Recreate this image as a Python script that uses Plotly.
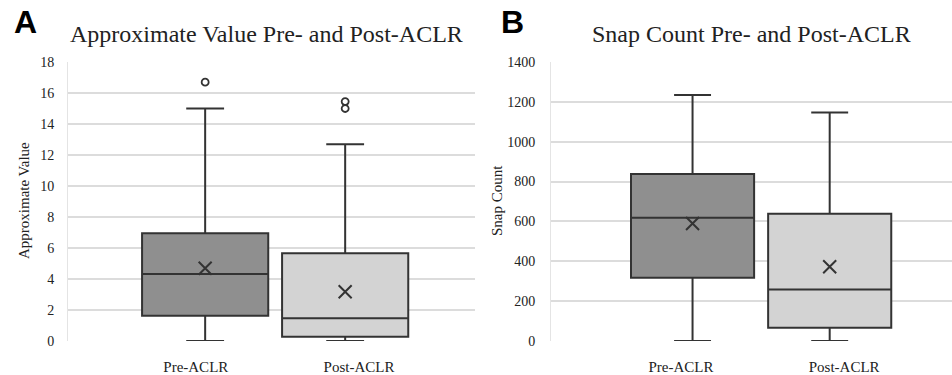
import plotly.graph_objects as go

# ---------------- data ----------------
categories = ["Pre-ACLR", "Post-ACLR"]

# Panel A: Approximate Value
av_lower = [0.0, 0.0]
av_q1 = [1.63, 0.28]
av_median = [4.32, 1.46]
av_q3 = [6.95, 5.66]
av_upper = [15.0, 12.7]
av_mean = [4.69, 3.18]
av_outliers = [[16.7], [15.45, 15.0]]

# Panel B: Snap Count
sc_lower = [0, 0]
sc_q1 = [318, 67]
sc_median = [619, 259]
sc_q3 = [838, 639]
sc_upper = [1234, 1147]
sc_mean = [590, 373]
sc_outliers = [[], []]

# ---------------- layout constants ----------------
W, H = 952, 375
fills = ["#8f8f8f", "#d3d3d3"]
LINE = "#333333"
GRID = "#dcdcdc"
SERIF = "Liberation Serif"
SANS = "Liberation Sans"

panels = [
    dict(xa="x", ya="y", box_pos=[0.337, 0.681], label_pos=[0.314, 0.715], width=0.31,
         lower=av_lower, q1=av_q1, med=av_median, q3=av_q3, upper=av_upper,
         mean=av_mean, out=av_outliers),
    dict(xa="x2", ya="y2", box_pos=[0.353, 0.695], label_pos=[0.324, 0.731], width=0.307,
         lower=sc_lower, q1=sc_q1, med=sc_median, q3=sc_q3, upper=sc_upper,
         mean=sc_mean, out=sc_outliers),
]

fig = go.Figure()
for p in panels:
    for i, cat in enumerate(categories):
        fig.add_trace(go.Box(
            x=[p["box_pos"][i]], q1=[p["q1"][i]], median=[p["med"][i]], q3=[p["q3"][i]],
            lowerfence=[p["lower"][i]], upperfence=[p["upper"][i]],
            width=p["width"], whiskerwidth=0.3, boxpoints=False,
            fillcolor=fills[i], line=dict(color=LINE, width=2),
            name=cat, showlegend=False, xaxis=p["xa"], yaxis=p["ya"],
        ))
        fig.add_trace(go.Scatter(
            x=[p["box_pos"][i]], y=[p["mean"][i]], mode="markers",
            marker=dict(symbol="x-thin", size=13, line=dict(color=LINE, width=2)),
            showlegend=False, xaxis=p["xa"], yaxis=p["ya"],
        ))
        if p["out"][i]:
            fig.add_trace(go.Scatter(
                x=[p["box_pos"][i]] * len(p["out"][i]), y=p["out"][i], mode="markers",
                marker=dict(symbol="circle-open", size=7, color=LINE, line=dict(color=LINE, width=1.8)),
                showlegend=False, xaxis=p["xa"], yaxis=p["ya"],
            ))

ydom = [(H - 341) / H, (H - 62) / H]
xcommon = dict(range=[0, 1], showgrid=False, zeroline=False, showline=False,
               ticks="", tickfont=dict(family=SERIF, size=15, color="#222222"),
               ticklabelstandoff=15, fixedrange=True, automargin=False)
ycommon = dict(showgrid=True, gridcolor=GRID, gridwidth=1.5, zeroline=False,
               showline=True, linecolor="#e4e4e4", linewidth=1,
               ticks="", tickfont=dict(family=SERIF, size=14, color="#222222"),
               fixedrange=True, domain=ydom, automargin=False)

fig.update_layout(
    template="none",
    width=W, height=H, margin=dict(l=0, r=0, t=0, b=0, autoexpand=False),
    paper_bgcolor="white", plot_bgcolor="white",
    xaxis=dict(xcommon, domain=[68 / W, 475 / W], anchor="y",
               tickvals=panels[0]["label_pos"], ticktext=categories),
    yaxis=dict(ycommon, range=[0, 18], dtick=2, anchor="x", ticklabelstandoff=10),
    xaxis2=dict(xcommon, domain=[551 / W, 1.0], anchor="y2",
                tickvals=panels[1]["label_pos"], ticktext=categories),
    yaxis2=dict(ycommon, range=[0, 1400], dtick=200, anchor="x2", ticklabelstandoff=12),
    annotations=[
        dict(text="<b>A</b>", x=12 / W, y=1 - 22 / H, xref="paper", yref="paper",
             xanchor="left", yanchor="middle", showarrow=False,
             font=dict(family=SANS, size=32, color="black")),
        dict(text="<b>B</b>", x=499 / W, y=1 - 22 / H, xref="paper", yref="paper",
             xanchor="left", yanchor="middle", showarrow=False,
             font=dict(family=SANS, size=32, color="black")),
        dict(text="Approximate Value Pre- and Post-ACLR", x=266.5 / W, y=1 - 34 / H,
             xref="paper", yref="paper", xanchor="center", yanchor="middle",
             showarrow=False, font=dict(family=SERIF, size=24, color="#222222")),
        dict(text="Snap Count Pre- and Post-ACLR", x=751 / W, y=1 - 34 / H,
             xref="paper", yref="paper", xanchor="center", yanchor="middle",
             showarrow=False, font=dict(family=SERIF, size=24, color="#222222")),
        dict(text="Approximate Value", x=24 / W, y=1 - 201 / H, textangle=-90,
             xref="paper", yref="paper", xanchor="center", yanchor="middle",
             showarrow=False, font=dict(family=SERIF, size=15, color="#222222")),
        dict(text="Snap Count", x=497 / W, y=1 - 201 / H, textangle=-90,
             xref="paper", yref="paper", xanchor="center", yanchor="middle",
             showarrow=False, font=dict(family=SERIF, size=15, color="#222222")),
    ],
)

fig.write_html("out.html", config={"displayModeBar": False})
